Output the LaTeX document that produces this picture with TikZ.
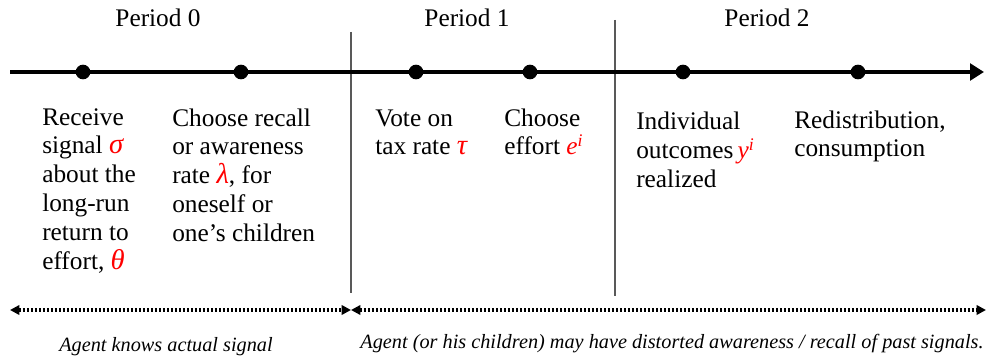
\documentclass[tikz,border=0pt]{standalone}
\usepackage{fontspec}
\setmainfont{Liberation Serif}
\usetikzlibrary{arrows.meta}
\newcommand{\gk}[1]{\textcolor{red}{\fontsize{21.5}{21.6}\selectfont\itshape #1}}

\begin{document}
\begin{tikzpicture}[x=0.75pt,y=-0.75pt,
	evt/.style={circle,fill=black,inner sep=0pt,minimum size=11pt},
	txt/.style={anchor=base west,align=left,inner sep=0pt,font=\fontsize{19}{21.6}\selectfont},
	per/.style={anchor=base,inner sep=0pt,font=\fontsize{19}{22}\selectfont},
	note/.style={anchor=base,inner sep=0pt,font=\fontsize{15.2}{18}\selectfont\itshape},
	sep/.style={line width=1pt,draw=black!65},
	span/.style={line width=2.6pt,dash pattern=on 2pt off 1pt,
		{Triangle[length=7pt,width=7pt]}-{Triangle[length=7pt,width=7pt]}}]
	\useasboundingbox (0,0) rectangle (987,356);
	% period separators
	\draw[sep] (351,32) -- (351,293);
	\draw[sep] (615,20) -- (615,296);
	% time line
	\coordinate (tl0) at (10,72);
	\coordinate (tl1) at (984,72);
	\draw[line width=3.5pt,-{Triangle[length=10.5pt,width=12.5pt]}] (tl0) -- (tl1);
	\node(d0)[evt] at (83,72) {};
	\node(d1)[evt] at (241,72) {};
	\node(d2)[evt] at (416,72) {};
	\node(d3)[evt] at (530,72) {};
	\node(d4)[evt] at (683,72) {};
	\node(d5)[evt] at (858,72) {};
	% periods
	\node(p0)[per] at (158,27) {Period 0};
	\node(p1)[per] at (467,27) {Period 1};
	\node(p2)[per] at (767,27) {Period 2};
	% events (placed by the baseline of the last line)
	\node(e0)[txt] at (42,269) {Receive\\signal \gk{σ}\\about the\\long-run\\return to\\effort, \gk{θ}};
	\node(e1)[txt] at (172,241.2) {Choose recall\\or awareness\\rate \gk{λ}, for\\oneself or\\one’s children};
	\node(e2)[txt] at (375,154.8) {Vote on\\tax rate \gk{τ}};
	\node(e3)[txt] at (504,154.8) {Choose\\effort \textcolor{red}{\textit{e}\textsuperscript{\textit{i}}}};
	\node(e4)[txt] at (636,187.6) {Individual\\outcomes\,\textcolor{red}{\textit{y}\textsuperscript{\textit{i}}}\\realized};
	\node(e5)[txt] at (794,156.8) {Redistribution,\\consumption};
	% knowledge spans
	\coordinate (k0) at (10,310);
	\coordinate (k1) at (351,310);
	\coordinate (k2) at (986,310);
	\draw[span] (k0) -- (k1);
	\draw[span] (k1) -- (k2);
	\node(n0)[note] at (166,351) {Agent knows actual signal};
	\node(n1)[note] at (672,348) {Agent (or his children) may have distorted awareness / recall of past signals.};
\end{tikzpicture}
\end{document}
